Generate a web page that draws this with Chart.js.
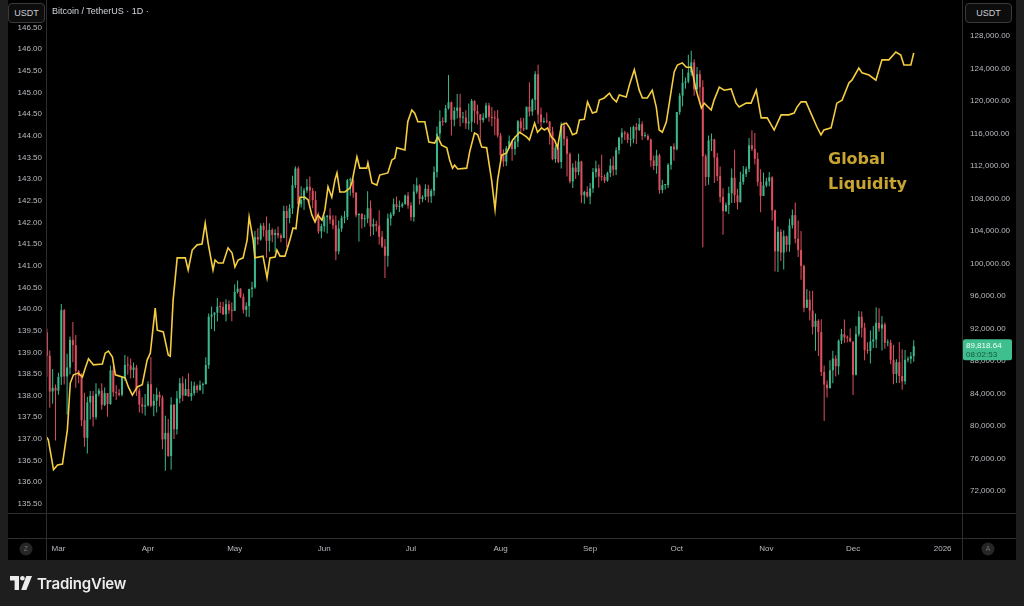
<!DOCTYPE html>
<html>
<head>
<meta charset="utf-8">
<title>Bitcoin / TetherUS vs Global Liquidity</title>
<script src="https://cdn.jsdelivr.net/npm/chart.js@4.4.1/dist/chart.umd.min.js"></script>
<style>
  html, body { margin: 0; padding: 0; background: #1e1e1e; }
  #wrap { position: relative; width: 1024px; height: 606px; overflow: hidden; background: #1e1e1e; }
  #panel { position: absolute; left: 8px; top: 0; width: 1008px; height: 560px; background: #000; }
  #chart { position: absolute; left: 0; top: 0; }
  .unit { position: absolute; top: 3px; height: 18px; border: 1px solid #3a3a3a; border-radius: 4px;
          background: #0d0d0d; color: #c9cbd0; font: 9px 'Liberation Sans', Arial, sans-serif;
          line-height: 18px; text-align: center; }
  #title { position: absolute; left: 52px; top: 6px; color: #d1d4dc; font: 9px 'Liberation Sans', Arial, sans-serif; }
  #note { position: absolute; left: 828px; top: 146px; color: #c8a530; font: bold 16px 'DejaVu Sans', sans-serif;
          line-height: 25px; }
  #brand { position: absolute; left: 10px; top: 574px; height: 18px; display: flex; align-items: center; }
  #brand span { color: #ececec; font: 600 15px Inter, 'Open Sans', sans-serif; margin-left: 5px; letter-spacing: -0.2px; }
</style>
</head>
<body>
<div id="wrap">
  <div id="panel"></div>
  <canvas id="chart" width="1024" height="606"></canvas>
  <div class="unit" style="left:8px; width:35px;">USDT</div>
  <div class="unit" style="left:965px; width:45px;">USDT</div>
  <div id="title">Bitcoin / TetherUS · 1D ·</div>
  <div id="note">Global<br>Liquidity</div>
  <div id="brand">
    <svg width="22" height="14" viewBox="0 0 22 14">
      <path d="M0 0h9v14H4.6V4.4H0z" fill="#ececec"/>
      <circle cx="12.4" cy="2.3" r="2.3" fill="#ececec"/>
      <path d="M16.3 0H22l-5.6 14h-5.2z" fill="#ececec"/>
    </svg>
    <span>TradingView</span>
  </div>
</div>
<script>
// daily BTC/USDT candles, 25 Feb 2025 .. 22 Dec 2025 (open = previous close)
const firstOpen = 91550;
const firstDay = -4; // 25 Feb, counted in days from 1 Mar

const closes = [
  88650, 84250, 84700, 84350,
  86050, 94250, 86100, 87200, 90600, 89950, 86750, 86150, 80700, 78550, 82900, 83700, 81100, 83950, 84350, 82600, 84050, 82700, 86850, 84150, 84050, 83850, 86050, 87500, 87450, 86900, 87200, 84350, 82650, 82400, 82550,
  85150, 82500, 83100, 83850, 83500, 78350, 79150, 76300, 82600, 79600, 83400, 85250, 83750, 84550, 83650, 84050, 84950, 84450, 85050, 85150, 87500, 93450, 93700, 93950, 94700, 94650, 93750, 95000, 94250, 94170,
  96500, 96900, 95900, 94300, 94750, 96850, 97050, 103250, 102950, 104650, 104100, 102800, 104150, 103500, 103750, 103450, 103150, 106450, 105600, 106800, 109650, 111700, 107300, 107800, 109000, 109450, 108950, 107800, 105650, 103950, 104600,
  105700, 105900, 105400, 104700, 101500, 104300, 105600, 105750, 110250, 110250, 108700, 105950, 106100, 105450, 105550, 106800, 104550, 104850, 104650, 103300, 102100, 100950, 105550, 106050, 107300, 106950, 107050, 107300, 108350, 107150,
  105700, 108850, 109600, 107950, 108200, 109200, 108250, 108950, 111250, 116000, 117500, 117400, 119100, 119850, 117700, 118800, 119200, 117950, 117950, 117250, 117450, 120000, 118750, 118350, 117650, 117950, 119450, 118050, 117900, 117850, 115750,
  113300, 112550, 114200, 115050, 114100, 115000, 117500, 116650, 116500, 119300, 118700, 120150, 123300, 118350, 117400, 117500, 117450, 116250, 112850, 114250, 112500, 116950, 115350, 113500, 110100, 111800, 111250, 112550, 108400, 108800, 108250,
  109250, 111250, 111700, 110700, 110650, 110200, 111150, 112050, 111550, 113950, 115500, 116100, 115950, 115250, 115350, 116800, 116450, 117150, 115700, 115700, 115250, 112700, 112000, 113300, 109050, 109650, 109650, 112150, 114400, 114050,
  118650, 120650, 122250, 122400, 123500, 124750, 121450, 123300, 121700, 113200, 110650, 115150, 115250, 113050, 110750, 108200, 106450, 107200, 108650, 110550, 108400, 107550, 110050, 111000, 111650, 114550, 114100, 112900, 110050, 108300, 109600,
  110100, 110600, 106550, 101500, 103900, 101350, 103350, 102300, 104700, 105950, 103050, 101650, 99700, 94550, 95550, 94200, 92200, 92950, 91550, 86650, 85100, 84650, 86850, 88300, 87350, 90500, 91300, 90900, 90850, 90400,
  86300, 91300, 93450, 92100, 89350, 89250, 90400, 90650, 92700, 92000, 92500, 90250, 90250, 88150, 86400, 87850, 86150, 85500, 88150, 88250, 88600, 89818.64
];
const highs = [
  92000, 89300, 87000, 85100,
  86550, 95000, 94400, 88900, 91000, 92800, 91200, 86900, 86500, 84100, 83600, 84300, 84300, 85250, 84650, 85250, 84750, 84050, 87450, 87450, 85000, 84550, 86100, 88750, 88550, 88300, 87800, 87500, 84650, 83550, 83950,
  85500, 88500, 83950, 84700, 84250, 83750, 81250, 80850, 83550, 82700, 84300, 85900, 86100, 85800, 86500, 85500, 85450, 85100, 85600, 85350, 88450, 93850, 94700, 94000, 95750, 95300, 95300, 95600, 95450, 95200,
  97450, 97900, 96950, 96300, 95200, 96900, 97750, 104000, 104350, 104950, 105000, 105800, 104950, 104350, 104200, 104550, 103700, 107100, 107100, 107300, 110800, 111980, 111950, 109500, 109300, 110400, 110700, 109300, 108900, 106300, 104900,
  105900, 105950, 106800, 105950, 105900, 105300, 105900, 106450, 110400, 110600, 110400, 108800, 106200, 106200, 106000, 108900, 107750, 105550, 105250, 106550, 104000, 103000, 106150, 106300, 108000, 108250, 107750, 107550, 108500, 108800,
  107550, 109750, 110550, 109750, 108400, 109750, 109700, 109200, 111950, 116850, 118850, 118000, 119500, 123200, 119950, 119250, 120850, 120900, 118650, 118850, 119700, 120250, 120100, 119550, 118400, 118500, 119800, 119800, 119250, 118800, 118900,
  116050, 114050, 114450, 115750, 115100, 115700, 117650, 117950, 117900, 119300, 122300, 120300, 123650, 124450, 119200, 117950, 118600, 117550, 116800, 114550, 114800, 117400, 117400, 115650, 113650, 112350, 112650, 113500, 112650, 108950, 109500,
  109900, 111750, 112650, 112200, 113400, 110950, 111300, 112900, 113200, 114300, 115550, 116650, 116350, 116150, 116800, 117000, 117300, 117900, 117500, 116200, 115950, 115400, 113300, 114000, 113500, 110300, 109750, 112350, 114450, 114800,
  118650, 121000, 123950, 122900, 125700, 126200, 125150, 124200, 123800, 122550, 113450, 115750, 116000, 115350, 113600, 111950, 109250, 107500, 109450, 111700, 114000, 109200, 111300, 112000, 111950, 115450, 116400, 116050, 113650, 111600, 111200,
  110550, 111250, 110750, 106650, 104550, 104200, 104100, 103450, 105500, 106650, 107500, 105300, 104000, 99850, 96850, 96650, 96650, 93850, 93150, 93150, 87450, 85600, 88100, 89250, 88700, 90650, 91950, 93100, 91150, 92000,
  90400, 92300, 94150, 94100, 92700, 90300, 91750, 92300, 94600, 94500, 93550, 92750, 90650, 90600, 90000, 88200, 90350, 89450, 89350, 88550, 89100, 90550
];
const lows = [
  86050, 82250, 82750, 78200,
  83850, 85050, 85100, 81400, 86350, 87850, 84700, 85250, 80000, 77450, 76600, 80800, 79950, 80800, 83650, 82000, 82450, 81150, 82600, 83600, 83200, 83650, 83650, 85550, 86300, 85850, 85900, 83700, 81650, 81550, 81300,
  82400, 82300, 81200, 81650, 82400, 77150, 74500, 76200, 74600, 78400, 78950, 82800, 83050, 83700, 83600, 83100, 83750, 84100, 84300, 83950, 85100, 87050, 91950, 91650, 92850, 93900, 93650, 92850, 93800, 92900,
  94150, 96300, 95750, 93850, 93450, 93400, 95800, 96900, 102300, 102800, 103300, 100700, 101450, 102600, 101400, 103100, 102600, 103100, 102000, 104950, 106100, 109300, 106800, 106900, 106600, 108700, 107550, 106800, 105350, 103650, 103100,
  103900, 103700, 104900, 104200, 100400, 101100, 103900, 104950, 105350, 108350, 108100, 105700, 102700, 104300, 104500, 104950, 103350, 103500, 103950, 102350, 101900, 98200, 99600, 104650, 105850, 106650, 106350, 106850, 107250, 106750,
  105250, 105150, 108600, 107250, 107550, 107800, 107500, 107450, 108350, 110600, 115250, 116950, 117300, 118950, 115750, 116900, 117850, 116850, 117300, 116550, 116450, 116200, 117300, 117100, 114700, 117350, 117850, 117450, 116900, 115800, 115500,
  112700, 111900, 112000, 114100, 112650, 113350, 114300, 115900, 116300, 116500, 118100, 118200, 118900, 117200, 116800, 117250, 117250, 114650, 112700, 112400, 112350, 111700, 114500, 110700, 109850, 109300, 110400, 110850, 107450, 107350, 108100,
  107300, 108700, 110600, 109350, 110200, 109900, 110050, 110650, 110800, 110900, 113450, 114750, 115200, 114800, 114400, 114800, 114700, 116300, 115200, 115500, 115150, 111900, 111500, 111050, 108600, 108650, 109100, 109300, 111550, 112650,
  113950, 118300, 119350, 121500, 122200, 123100, 120650, 121100, 119650, 102000, 109550, 109700, 113850, 109900, 110150, 107500, 103550, 106350, 106100, 107450, 107450, 106650, 107500, 109700, 110650, 111250, 113850, 112200, 109500, 106300, 108650,
  109400, 109500, 105300, 99000, 98950, 100300, 99250, 101450, 101450, 104300, 102500, 100800, 98000, 94000, 94550, 93000, 91250, 89250, 88600, 86150, 80600, 83500, 84700, 85250, 86100, 86300, 90100, 90200, 90300, 90300,
  83800, 86200, 91000, 90900, 88100, 88900, 87700, 89600, 89600, 91600, 89300, 89500, 89800, 87600, 85150, 85300, 85300, 84450, 85100, 87850, 87650, 87900
];

// Global Liquidity (left scale); day counted from 1 Mar
const liqDays = [
  -4.2, -3.5, -1.7, -0.3, 1.4, 3.1, 4.1, 5.2, 6.9, 8.3, 9.3, 10.4, 12.1, 15.2, 16.2, 17.3, 18.7, 19.7, 23.1, 24.2,
  25.6, 27.3, 29.0, 30.7, 31.8, 33.5, 34.2, 36.3, 38.0, 38.7, 39.7, 41.1, 43.9, 44.9, 46.3, 48.0, 49.7, 50.8, 51.8, 53.5,
  54.2, 55.3, 57.0, 58.7, 60.1, 61.1, 62.2, 63.9, 65.3, 66.0, 67.4, 68.0, 70.8, 72.2, 73.2, 75.0, 75.6, 76.7, 78.4, 80.1,
  81.2, 82.2, 82.9, 83.6, 85.3, 86.4, 87.7, 88.8, 89.8, 91.2, 92.2, 93.3, 94.6, 95.7, 96.4, 97.4, 99.1, 100.9, 101.6, 103.3,
  104.3, 106.7, 107.1, 108.5, 110.2, 111.2, 114.0, 115.4, 116.4, 117.1, 119.9, 120.9, 122.3, 123.3, 124.4, 126.8, 128.2, 130.2, 131.3, 132.6,
  134.4, 135.4, 136.4, 137.1, 138.2, 141.3, 142.3, 144.0, 145.1, 146.5, 148.2, 149.2, 149.9, 151.1, 152.0, 153.4, 155.1, 157.2, 159.6, 162.0,
  163.0, 164.8, 165.8, 167.2, 168.2, 169.3, 170.6, 171.7, 172.7, 174.1, 175.8, 176.9, 177.9, 179.3, 180.3, 182.0, 183.1, 184.8, 186.2, 187.2,
  188.9, 190.7, 191.7, 193.1, 194.1, 196.5, 197.6, 199.3, 201.0, 202.1, 203.8, 205.5, 206.9, 207.9, 209.0, 210.4, 212.1, 213.1, 214.2, 215.9,
  217.3, 219.0, 220.7, 222.5, 223.5, 225.9, 226.9, 228.7, 230.4, 232.8, 234.5, 235.6, 238.0, 239.7, 241.5, 243.2, 245.3, 247.7, 250.1, 252.8,
  254.6, 255.6, 257.0, 258.7, 260.4, 262.5, 263.9, 264.9, 267.4, 269.4, 271.2, 273.6, 274.6, 277.0, 278.1, 280.5, 282.9, 285.0, 287.4, 289.8,
  291.5, 292.6, 295.0, 296.0
];
const liqValues = [
  137.05, 136.98, 136.29, 136.40, 136.42, 137.21, 138.29, 138.48, 138.52, 138.43, 138.64, 138.85, 138.71, 138.73, 138.98, 139.03, 138.89, 138.48, 138.41, 138.20,
  138.01, 138.20, 138.25, 138.82, 138.98, 140.02, 139.51, 139.47, 138.94, 138.91, 140.21, 141.18, 141.18, 140.90, 141.36, 141.48, 141.50, 141.98, 141.52, 140.90,
  141.13, 141.06, 141.06, 141.41, 141.29, 140.97, 141.13, 141.18, 141.59, 142.12, 141.59, 141.18, 141.22, 140.72, 141.18, 141.20, 141.36, 141.22, 141.22, 141.59,
  141.87, 141.85, 142.28, 142.58, 142.58, 142.52, 142.17, 142.01, 142.17, 142.05, 142.28, 142.82, 142.58, 142.98, 143.14, 142.70, 142.70, 142.79, 142.93, 143.51,
  143.25, 143.25, 143.37, 142.91, 142.86, 143.09, 143.14, 143.44, 143.48, 143.72, 143.67, 144.32, 144.59, 144.52, 144.32, 144.32, 143.85, 143.83, 143.97, 143.78,
  143.72, 143.44, 143.25, 143.32, 143.23, 143.25, 143.62, 144.06, 144.02, 143.74, 143.72, 143.28, 142.98, 142.30, 142.98, 143.55, 143.60, 143.90, 144.08, 143.97,
  143.90, 144.29, 144.08, 144.18, 144.13, 144.18, 143.97, 143.90, 143.72, 144.25, 144.29, 144.18, 144.02, 144.06, 144.36, 144.38, 144.78, 144.52, 144.55, 144.82,
  144.87, 144.98, 144.87, 144.78, 144.94, 144.89, 145.17, 145.52, 145.05, 144.87, 144.87, 145.05, 144.66, 144.13, 144.08, 144.32, 145.05, 145.47, 145.63, 145.68,
  145.58, 145.58, 145.05, 144.64, 144.75, 144.59, 144.82, 145.12, 145.05, 145.08, 144.75, 144.66, 144.75, 144.75, 145.05, 144.41, 144.41, 144.13, 144.48, 144.48,
  144.52, 144.66, 144.78, 144.78, 144.52, 144.20, 144.02, 144.13, 144.18, 144.75, 144.82, 145.22, 145.28, 145.56, 145.45, 145.40, 145.28, 145.75, 145.75, 145.93,
  145.86, 145.63, 145.63, 145.91
];

const monthTicks = [0, 31, 61, 92, 122, 153, 184, 214, 245, 275, 306];
const monthLabels = ['Mar', 'Apr', 'May', 'Jun', 'Jul', 'Aug', 'Sep', 'Oct', 'Nov', 'Dec', '2026'];
const leftTicks = [135.5, 136, 136.5, 137, 137.5, 138, 138.5, 139, 139.5, 140, 140.5, 141, 141.5, 142, 142.5, 143, 143.5, 144, 144.5, 145, 145.5, 146, 146.5];
const rightTicks = [72000, 76000, 80000, 84000, 88000, 92000, 96000, 100000, 104000, 108000, 112000, 116000, 120000, 124000, 128000];
const countdown = '08:02:53';

const UP = '#3cb98b';
const DOWN = '#de4f5e';
const LINE = '#f4cd40';
const AXIS_TEXT = '#b9bbc0';
const SEP = '#2e2e2e';

const bodies = [], wicks = [], candleColors = [];
let prevClose = firstOpen;
closes.forEach((c, i) => {
    const o = prevClose;
    const x = firstDay + i;
    bodies.push({ x: x, y: [o, c] });
    wicks.push({ x: x, y: [Math.min(lows[i], o, c), Math.max(highs[i], o, c)] });
    candleColors.push(c >= o ? UP : DOWN);
    prevClose = c;
});
const liquidity = liqDays.map((d, i) => ({ x: d, y: liqValues[i] }));

const fmtPrice = v => v.toLocaleString('en-US', { minimumFractionDigits: 2, maximumFractionDigits: 2 });

// separators, the Z / A buttons and the last price tag
const framePlugin = {
    id: 'frame',
    afterDraw(chart) {
        const c = chart.ctx;
        c.save();
        c.strokeStyle = SEP;
        c.lineWidth = 1;
        c.beginPath();
        c.moveTo(46.5, 0); c.lineTo(46.5, 560);
        c.moveTo(962.5, 0); c.lineTo(962.5, 560);
        c.moveTo(8, 513.5); c.lineTo(1016, 513.5);
        c.moveTo(8, 538.5); c.lineTo(1016, 538.5);
        c.stroke();

        [[26, 'Z'], [988, 'A']].forEach(([cx, ch]) => {
            c.fillStyle = '#262626';
            c.beginPath(); c.arc(cx, 549, 6.5, 0, Math.PI * 2); c.fill();
            c.fillStyle = '#707070';
            c.font = '7px "Liberation Sans", Arial, sans-serif';
            c.textAlign = 'center'; c.textBaseline = 'middle';
            c.fillText(ch, cx, 549.5);
        });

        const last = closes[closes.length - 1];
        const py = chart.scales.yR.getPixelForValue(last);
        c.fillStyle = '#3fbf8d';
        c.beginPath();
        c.roundRect(963, py - 7, 49, 21, 2);
        c.fill();
        c.textAlign = 'left'; c.textBaseline = 'middle';
        c.font = '8px "Liberation Sans", Arial, sans-serif';
        c.fillStyle = '#f4fffa';
        c.fillText(fmtPrice(last), 966, py);
        c.fillStyle = '#145a42';
        c.fillText(countdown, 966, py + 9);
        c.restore();
    }
};

const tickFont = { family: '"Liberation Sans", Arial, sans-serif', size: 8 };

new Chart(document.getElementById('chart'), {
    type: 'bar',
    data: {
        datasets: [
            {
                type: 'line',
                label: 'Global Liquidity',
                data: liquidity,
                yAxisID: 'yL',
                borderColor: LINE,
                borderWidth: 1.6,
                pointRadius: 0,
                tension: 0,
                order: 0
            },
            {
                label: 'BTC wicks',
                data: wicks,
                yAxisID: 'yR',
                backgroundColor: candleColors,
                barThickness: 1,
                grouped: false,
                inflateAmount: 0,
                borderWidth: 0,
                order: 2
            },
            {
                label: 'BTC bodies',
                data: bodies,
                yAxisID: 'yR',
                backgroundColor: candleColors,
                barThickness: 2,
                minBarLength: 1,
                grouped: false,
                inflateAmount: 0,
                borderWidth: 0,
                order: 1
            }
        ]
    },
    options: {
        responsive: false,
        maintainAspectRatio: false,
        animation: false,
        layout: { padding: 0 },
        plugins: { legend: { display: false }, tooltip: { enabled: false } },
        scales: {
            x: {
                type: 'linear',
                min: -4.3,
                max: 312.7,
                offset: false,
                grid: { display: false, drawTicks: false },
                border: { display: false },
                afterBuildTicks: s => { s.ticks = monthTicks.map(v => ({ value: v })); },
                afterFit: s => { s.height = 93; s.paddingLeft = 0; s.paddingRight = 0; },
                ticks: {
                    autoSkip: false,
                    maxRotation: 0,
                    padding: 31,
                    color: AXIS_TEXT,
                    font: tickFont,
                    callback: v => monthLabels[monthTicks.indexOf(v)]
                }
            },
            yL: {
                position: 'left',
                min: 135.291,
                max: 147.131,
                grid: { display: false, drawTicks: false },
                border: { display: false },
                afterBuildTicks: s => { s.ticks = leftTicks.map(v => ({ value: v })); },
                afterFit: s => { s.width = 46; s.paddingTop = 0; s.paddingBottom = 0; },
                ticks: {
                    autoSkip: false,
                    padding: 4,
                    color: AXIS_TEXT,
                    font: tickFont,
                    callback: v => v.toFixed(2)
                }
            },
            yR: {
                position: 'right',
                min: 69292,
                max: 132431,
                grid: { display: false, drawTicks: false },
                border: { display: false },
                afterBuildTicks: s => { s.ticks = rightTicks.map(v => ({ value: v })); },
                afterFit: s => { s.width = 62; s.paddingTop = 0; s.paddingBottom = 0; },
                ticks: {
                    autoSkip: false,
                    padding: 8,
                    color: AXIS_TEXT,
                    font: tickFont,
                    callback: v => fmtPrice(v)
                }
            }
        }
    },
    plugins: [framePlugin]
});
</script>
</body>
</html>
